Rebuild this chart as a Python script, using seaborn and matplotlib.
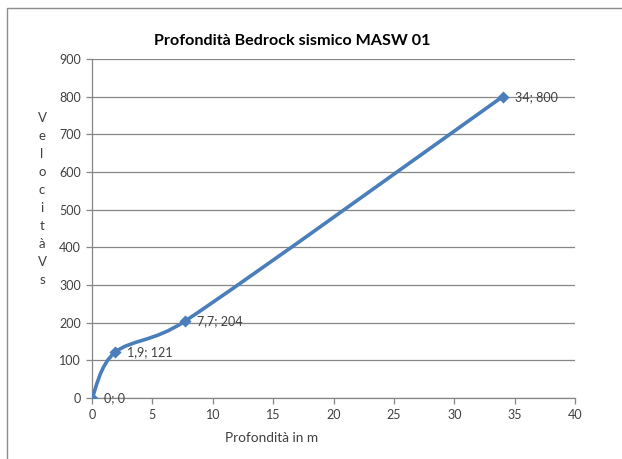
import numpy as np
import pandas as pd
import matplotlib
matplotlib.use("Agg")
import matplotlib.pyplot as plt
from matplotlib.path import Path
from matplotlib.patches import PathPatch, Rectangle
import seaborn as sns

# dati
profondita = [0, 1.9, 7.7, 34]
velocita = [0, 121, 204, 800]
etichette = ["0; 0", "1,9; 121", "7,7; 204", "34; 800"]
x_ticks = [0, 5, 10, 15, 20, 25, 30, 35, 40]
y_ticks = [0, 100, 200, 300, 400, 500, 600, 700, 800, 900]

BLU = "#4A7EBB"
GRIGIO = "#868686"
TESTO = "#404040"


def curva_smussata(ax, xs, ys):
    # linea smussata stile Excel, calcolata in pixel e riportata in coordinate dati
    p = ax.transData.transform(np.column_stack([xs, ys]))
    n = len(p)
    verts = [p[0]]
    codes = [Path.MOVETO]
    for i in range(n - 1):
        p0 = p[i - 1] if i > 0 else p[i]
        p3 = p[i + 2] if i + 2 < n else p[i + 1]
        seg = np.linalg.norm(p[i + 1] - p[i])
        t1 = (p[i + 1] - p0) / 6
        t2 = (p3 - p[i]) / 6
        # limita i punti di controllo a metà del segmento
        for t in (t1, t2):
            l = np.linalg.norm(t)
            if l > seg / 2:
                t *= (seg / 2) / l
        verts += [p[i] + t1, p[i + 1] - t2, p[i + 1]]
        codes += [Path.CURVE4] * 3
    verts = ax.transData.inverted().transform(np.array(verts))
    return Path(verts, codes)


def main():
    df = pd.DataFrame({"Profondita": profondita, "Velocita": velocita})

    sns.set_theme(style="white")
    plt.rcParams["font.family"] = ["Lato", "DejaVu Sans"]

    fig = plt.figure(figsize=(6.22, 4.59), dpi=100)
    ax = fig.add_axes([92 / 622, 1 - 398 / 459, (575 - 92) / 622, (398 - 59) / 459])
    ax.set_xlim(0, 40)
    ax.set_ylim(0, 900)

    # cornice esterna (tagliata a destra e in basso)
    fig.patches.append(Rectangle((7.5 / 622, -0.05), 1.1, 1 - 7.5 / 459 + 0.05,
                                 transform=fig.transFigure, fill=False,
                                 edgecolor="#8c8c8c", linewidth=1.0))

    ax.add_patch(PathPatch(curva_smussata(ax, profondita, velocita), facecolor="none",
                           edgecolor=BLU, linewidth=2.6, capstyle="round", zorder=3))
    sns.scatterplot(data=df, x="Profondita", y="Velocita", ax=ax, marker="D",
                    s=38, color=BLU, edgecolor=BLU, linewidth=0, zorder=4)

    for x, y, t in zip(profondita, velocita, etichette):
        ax.annotate(t, (x, y), xytext=(9, 0), textcoords="offset points",
                    va="center", ha="left", fontsize=9, color=TESTO, zorder=5)

    ax.set_xticks(x_ticks)
    ax.set_yticks(y_ticks)
    ax.set_xlim(0, 40)
    ax.set_ylim(0, 900)
    ax.yaxis.grid(True, color=GRIGIO, linewidth=0.9)
    ax.xaxis.grid(False)
    ax.set_axisbelow(True)
    for s in ["top", "right"]:
        ax.spines[s].set_visible(False)
    for s in ["left", "bottom"]:
        ax.spines[s].set_color(GRIGIO)
        ax.spines[s].set_linewidth(0.9)
    ax.tick_params(axis="both", length=4, width=0.9, color=GRIGIO, labelsize=9,
                   labelcolor=TESTO, direction="out", pad=4, bottom=True, left=True)
    ax.set_xlabel("")
    ax.set_ylabel("")

    fig.text(292 / 622, 1 - 41 / 459, "Profondità Bedrock sismico MASW 01",
             ha="center", va="center", fontsize=11.6, fontweight="bold", color="black")
    fig.text(272 / 622, 1 - 438 / 459, "Profondità in m",
             ha="center", va="center", fontsize=9.8, color=TESTO)
    fig.text(42 / 622, 1 - 199 / 459, "\n".join("VelocitàVs"),
             ha="center", va="center", fontsize=9.5, color=TESTO, linespacing=1.6)

    fig.savefig("out.png", dpi=100)
    plt.close(fig)


if __name__ == "__main__":
    main()
